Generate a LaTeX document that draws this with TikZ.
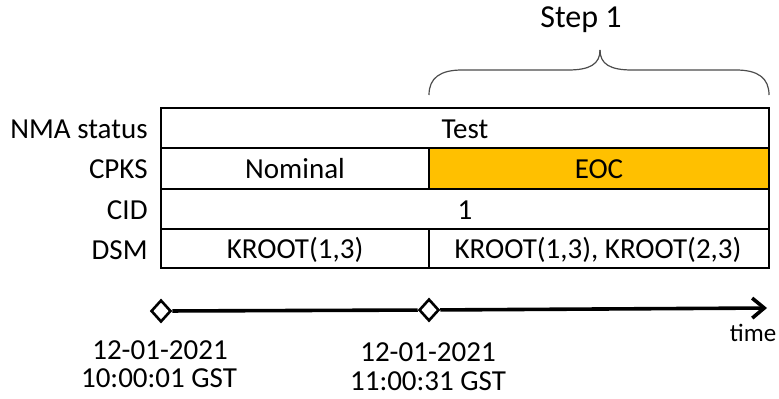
\documentclass[tikz,border=0pt]{standalone}
\usepackage{fontspec}
\setmainfont{Carlito}
\usetikzlibrary{shapes.geometric,arrows.meta}
\begin{document}
\begin{tikzpicture}[x=0.5pt,y=-0.5pt,
  txt/.style={font=\fontsize{14.5}{16}\selectfont, inner sep=0pt},
  lbl/.style={txt, anchor=east},
  cellline/.style={line width=1.2pt},
  dmd/.style={diamond, draw, fill=white, line width=1.3pt, minimum width=10pt, minimum height=11pt, inner sep=0pt},
  axis/.style={line width=1.8pt},
  brace/.style={draw=black!70, line width=0.6pt}
]
\useasboundingbox (0,0) rectangle (779,398);
% cells
\fill[fill={rgb,255:red,255;green,192;blue,0}] (429,148) rectangle (769,189);
\draw[cellline] (161,108) rectangle (769,268);
\draw[cellline] (161,148) -- (769,148);
\draw[cellline] (161,189) -- (769,189);
\draw[cellline] (161,229) -- (769,229);
\draw[cellline] (429,148) -- (429,189);
\draw[cellline] (429,229) -- (429,268);
% row labels
\node[lbl] (l1) at (148,129) {NMA status};
\node[lbl] (l2) at (148,169) {CPKS};
\node[lbl] (l3) at (148,210) {CID};
\node[lbl] (l4) at (148,250) {DSM};
% cell texts
\node[txt] (test) at (465,129) {Test};
\node[txt] (nom) at (295,169) {Nominal};
\node[txt] (eoc) at (599,169) {EOC};
\node[txt] (cid) at (465,210) {1};
\node[txt] (k1) at (295,250) {KROOT(1,3)};
\node[txt] (k2) at (598,250) {KROOT(1,3), KROOT(2,3)};
% brace
\draw[brace] (429,95) .. controls (429,78) and (440,70) .. (462,70) -- (568,70) .. controls (590,70) and (600,64) .. (600,50);
\draw[brace] (769,95) .. controls (769,78) and (758,70) .. (736,70) -- (632,70) .. controls (610,70) and (600,64) .. (600,50);
\node[font=\fontsize{16}{18}\selectfont, inner sep=0pt] (step) at (581,20) {Step 1};
% timeline
\node[dmd] (d1) at (161,311) {};
\node[dmd] (d2) at (429,310) {};
\coordinate (tend) at (767,308);
\draw[axis] (d1) -- (d2);
\draw[axis, -{Straight Barb[length=6pt,width=10pt,line width=1.8pt]}] (d2) -- (tend);
\node[txt, font=\fontsize{12.5}{14}\selectfont] (time) at (753,333) {time};
\node[txt] (t1a) at (160,350) {12-01-2021};
\node[txt] (t1b) at (159,378) {10:00:01 GST};
\node[txt] (t2a) at (428,352) {12-01-2021};
\node[txt] (t2b) at (428,381) {11:00:31 GST};
\end{tikzpicture}
\end{document}
